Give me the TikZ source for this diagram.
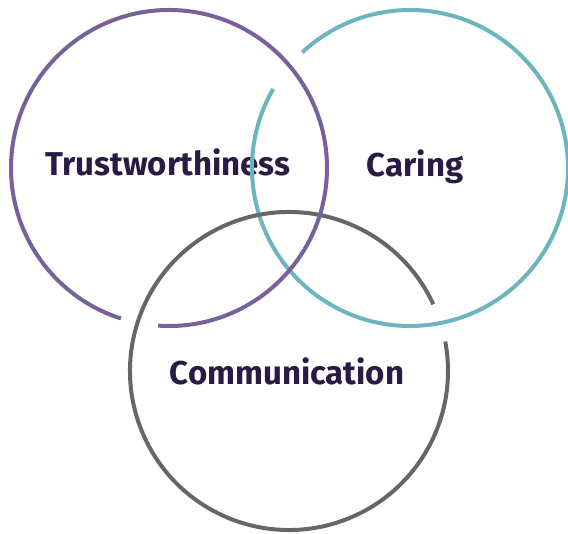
\documentclass[tikz,border=0pt]{standalone}
\usepackage{fontspec}
\setmainfont{Fira Sans}[Ligatures=NoCommon]
\usetikzlibrary{calc}
\definecolor{trustpurple}{HTML}{77619A}
\definecolor{caringteal}{HTML}{6CB4BE}
\definecolor{commgray}{HTML}{666666}
\definecolor{labelink}{HTML}{2A1B45}
\begin{document}
\begin{tikzpicture}[x=1pt,y=1pt,
  ring/.style={line width=4pt},
  label/.style={text=labelink,font=\fontsize{33}{37}\selectfont\bfseries,inner sep=0pt}]
\useasboundingbox (0,0) rectangle (568,534);
% labels first, rings drawn over them
\node[label] (trust) at (168,372) {Trustworthiness};
\node[label] (caring) at (415,367) {Caring};
\node[label] (comm) at (287,163) {Communication};
% rings, each with a short break where another ring passes over it
\coordinate (pc) at (169,366);
\coordinate (tc) at (410,366);
\coordinate (gc) at (289,163);
\draw[ring,caringteal] ($(tc)+(150:158)$) arc[start angle=150,end angle=493,radius=158];
\draw[ring,commgray] ($(gc)+(24.8:159)$) arc[start angle=24.8,end angle=370.7,radius=159];
\draw[ring,trustpurple] ($(pc)+(266:158)$) arc[start angle=266,end angle=612.3,radius=158];
\end{tikzpicture}
\end{document}
